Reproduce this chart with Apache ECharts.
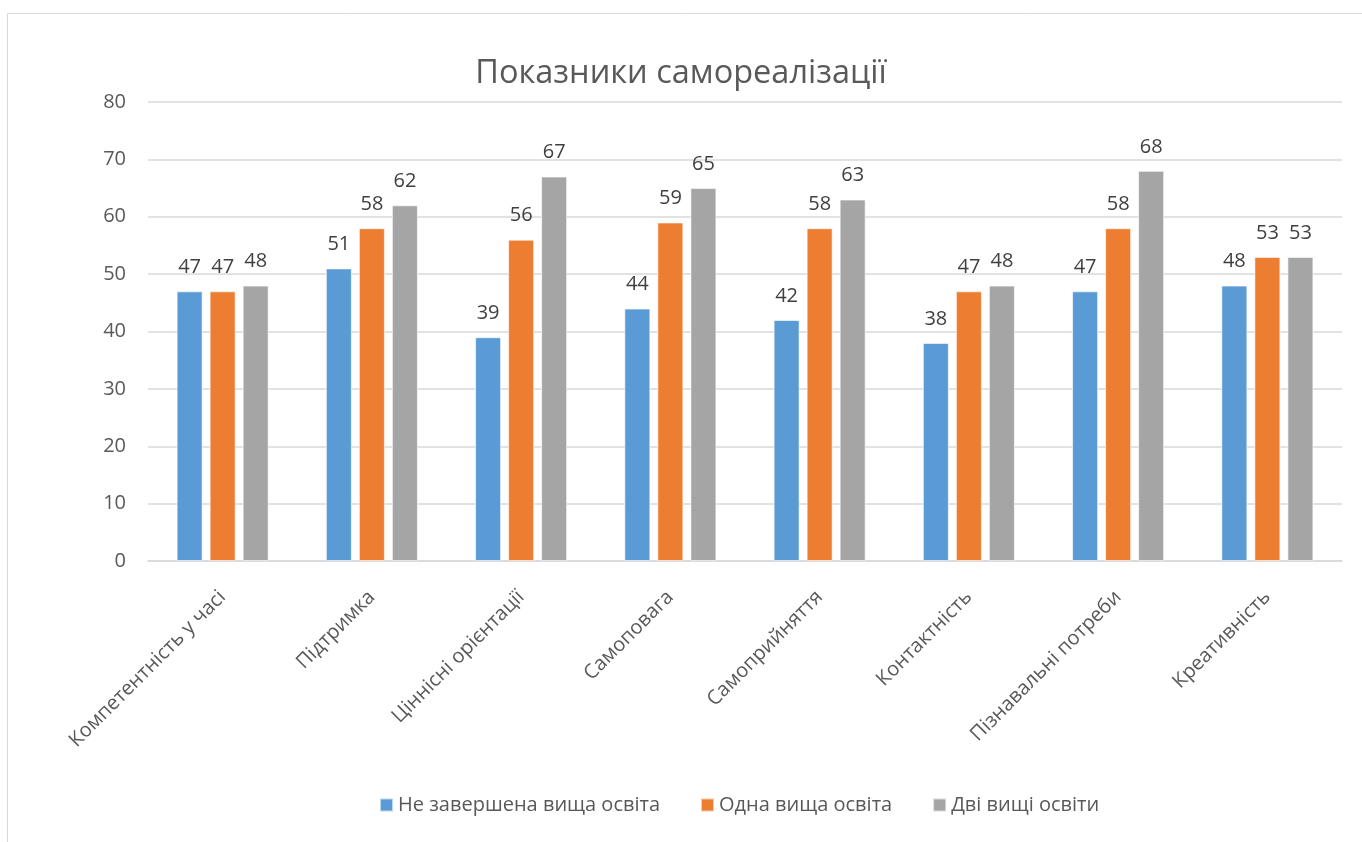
<!DOCTYPE html>
<html><head><meta charset="utf-8">
<script src="https://cdn.jsdelivr.net/npm/echarts@6/dist/echarts.min.js"></script>
<style>html,body{margin:0;padding:0;background:#fff}#c{width:1362px;height:842px}</style>
</head><body><div id="c"></div>
<script>
const categories = ["Компетентність у часі","Підтримка","Ціннісні орієнтації","Самоповага","Самоприйняття","Контактність","Пізнавальні потреби","Креативність"];
const seriesNames = ["Не завершена вища освіта","Одна вища освіта","Дві вищі освіти"];
const incomplete = [47,51,39,44,42,38,47,48];
const oneDegree = [47,58,56,59,58,47,58,53];
const twoDegrees = [48,62,67,65,63,48,68,53];
const colors = ["#5B9BD5","#ED7D31","#A5A5A5"];
const font = "'Open Sans', 'Noto Sans', sans-serif";
const chart = echarts.init(document.getElementById('c'));
const mk = (name, data, color) => ({
  name, type:'bar', data, barWidth:26, barGap:'27%',
  itemStyle:{color, borderColor:'rgba(255,255,255,0.6)', borderWidth:1},
  label:{show:true, position:'top', distance:14, color:'#404040', fontSize:20, fontFamily:font},
  emphasis:{disabled:true}
});
chart.setOption({
  animation:false,
  textStyle:{fontFamily:font},
  graphic:[{type:'rect', shape:{x:7.5,y:13.5,width:1370,height:840}, style:{fill:'none', stroke:'#d9d9d9', lineWidth:1}, silent:true, z:-1}],
  title:{text:'Показники самореалізації', left:'center', top:52, textStyle:{fontSize:32.5, fontWeight:'normal', color:'#595959', fontFamily:font}},
  legend:{bottom:22, left:374, itemWidth:13, itemHeight:13, itemGap:40, icon:'rect',
    textStyle:{fontSize:20, color:'#595959', fontFamily:font}, data:seriesNames},
  grid:{left:148, right:20, top:102, bottom:281, containLabel:false},
  xAxis:{type:'category', data:categories,
    axisLine:{lineStyle:{color:'#d9d9d9', width:1.5}}, axisTick:{show:false},
    axisLabel:{rotate:45, fontSize:20, color:'#595959', margin:33, interval:0, fontFamily:font}},
  yAxis:{type:'value', min:0, max:80, interval:10,
    axisLine:{show:false}, axisTick:{show:false},
    splitLine:{lineStyle:{color:'#d9d9d9', width:1.5}},
    axisLabel:{fontSize:20, color:'#595959', margin:22, fontFamily:font}},
  series:[mk(seriesNames[0], incomplete, colors[0]), mk(seriesNames[1], oneDegree, colors[1]), mk(seriesNames[2], twoDegrees, colors[2])]
});
</script></body></html>
